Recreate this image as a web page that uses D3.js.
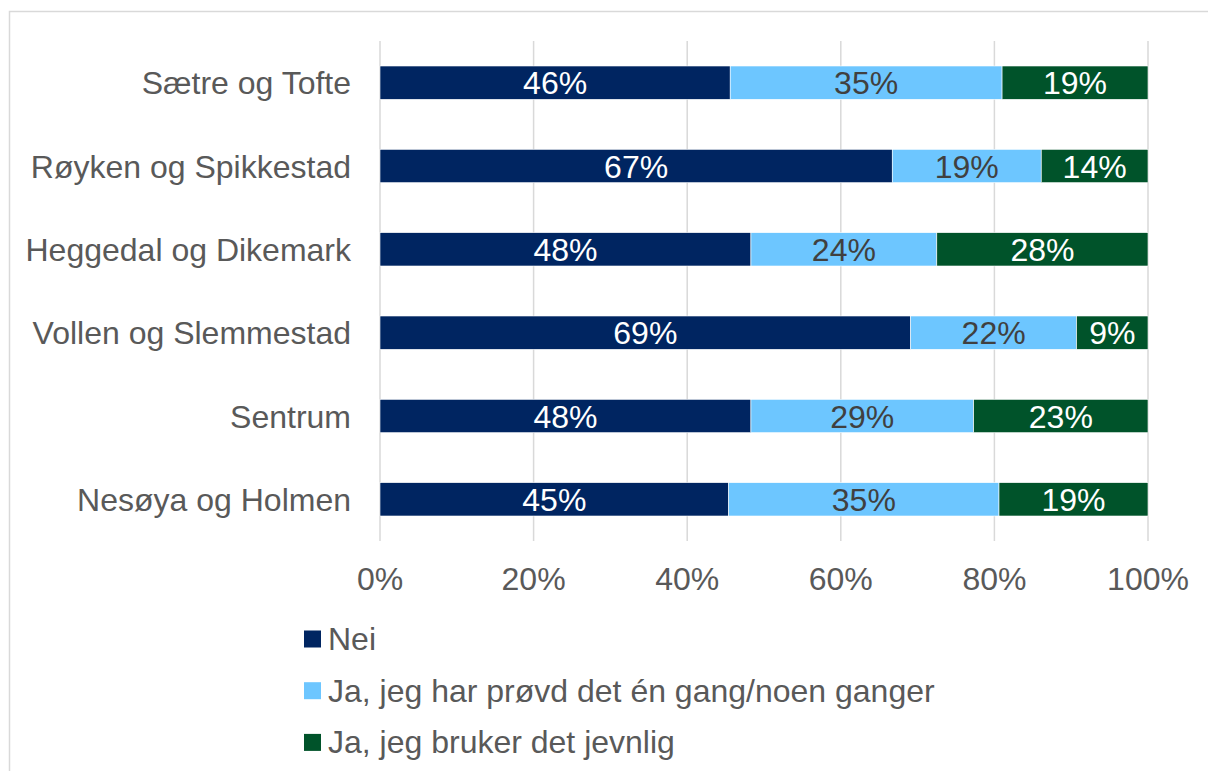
<!DOCTYPE html>
<html>
<head>
<meta charset="utf-8">
<script src="https://cdn.jsdelivr.net/npm/d3@7"></script>
<style>
  body { margin: 0; background: #fff; }
  svg { font-family: "Liberation Sans", Arial, sans-serif; }
</style>
</head>
<body>
<svg id="chart" width="1208" height="771"></svg>
<script>
// categories, top to bottom
const categories = ["Sætre og Tofte", "Røyken og Spikkestad", "Heggedal og Dikemark",
  "Vollen og Slemmestad", "Sentrum", "Nesøya og Holmen"];
const seriesNames = ["Nei", "Ja, jeg har prøvd det én gang/noen ganger", "Ja, jeg bruker det jevnlig"];
const nei      = [45.6, 66.7, 48.3, 69.1, 48.3, 45.4];
const provd    = [35.4, 19.4, 24.2, 21.6, 29.0, 35.2];
const jevnlig  = [19.0, 13.9, 27.5, 9.3, 22.7, 19.4];
const tickValues = [0, 20, 40, 60, 80, 100];
const colors = ["#002561", "#6DC6FF", "#00532A"];
const labelColors = ["#ffffff", "#404040", "#ffffff"];

const svg = d3.select("#chart");

// outer frame
svg.append("rect")
  .attr("x", 9.5).attr("y", 11.5)
  .attr("width", 1220).attr("height", 800)
  .style("fill", "none").style("stroke", "#d9d9d9").style("stroke-width", 1.5);

const x = d3.scaleLinear().domain([0, 100]).range([380, 1148]);
const y = d3.scaleBand().domain(categories).range([41, 541]).paddingInner(0.6).paddingOuter(0.3);

// gridlines
svg.append("g").selectAll("line")
  .data(tickValues)
  .enter().append("line")
  .attr("x1", d => x(d)).attr("x2", d => x(d))
  .attr("y1", 41).attr("y2", 541)
  .style("stroke", "#d9d9d9").style("stroke-width", 1.5);

const rows = categories.map((c, i) => ({ cat: c, vals: [nei[i], provd[i], jevnlig[i]] }));
const stack = d3.stack().keys([0, 1, 2]).value((d, k) => d.vals[k]);
const layers = stack(rows);

const g = svg.append("g");
layers.forEach((layer, k) => {
  g.selectAll(null)
    .data(layer)
    .enter().append("rect")
    .attr("x", d => x(d[0]))
    .attr("y", d => y(d.data.cat))
    .attr("width", d => x(d[1]) - x(d[0]))
    .attr("height", y.bandwidth())
    .style("fill", colors[k])
    .style("stroke", "#fff").style("stroke-width", 0.6);

  g.selectAll(null)
    .data(layer)
    .enter().append("text")
    .attr("x", d => (x(d[0]) + x(d[1])) / 2)
    .attr("y", d => y(d.data.cat) + y.bandwidth() / 2)
    .attr("dy", "0.36em")
    .attr("text-anchor", "middle")
    .style("font-size", "32px")
    .style("fill", labelColors[k])
    .text(d => Math.round(d.data.vals[k]) + "%");
});

// category labels
svg.append("g").selectAll("text")
  .data(categories)
  .enter().append("text")
  .attr("x", 351)
  .attr("y", d => y(d) + y.bandwidth() / 2)
  .attr("dy", "0.36em")
  .attr("text-anchor", "end")
  .style("font-size", "32px")
  .style("fill", "#595959")
  .text(d => d);

// x tick labels
svg.append("g").selectAll("text")
  .data(tickValues)
  .enter().append("text")
  .attr("x", d => x(d))
  .attr("y", 590)
  .attr("text-anchor", "middle")
  .style("font-size", "32px")
  .style("fill", "#595959")
  .text(d => d + "%");

// legend
const legend = svg.append("g").selectAll("g")
  .data(seriesNames)
  .enter().append("g")
  .attr("transform", (d, i) => `translate(304, ${639 + i * 51.7})`);
legend.append("rect")
  .attr("x", 0).attr("y", -8.5)
  .attr("width", 17).attr("height", 17)
  .style("fill", (d, i) => colors[i]);
legend.append("text")
  .attr("x", 24).attr("y", 0)
  .attr("dy", "0.34em")
  .style("font-size", "32px")
  .style("fill", "#595959")
  .text(d => d);
</script>
</body>
</html>
